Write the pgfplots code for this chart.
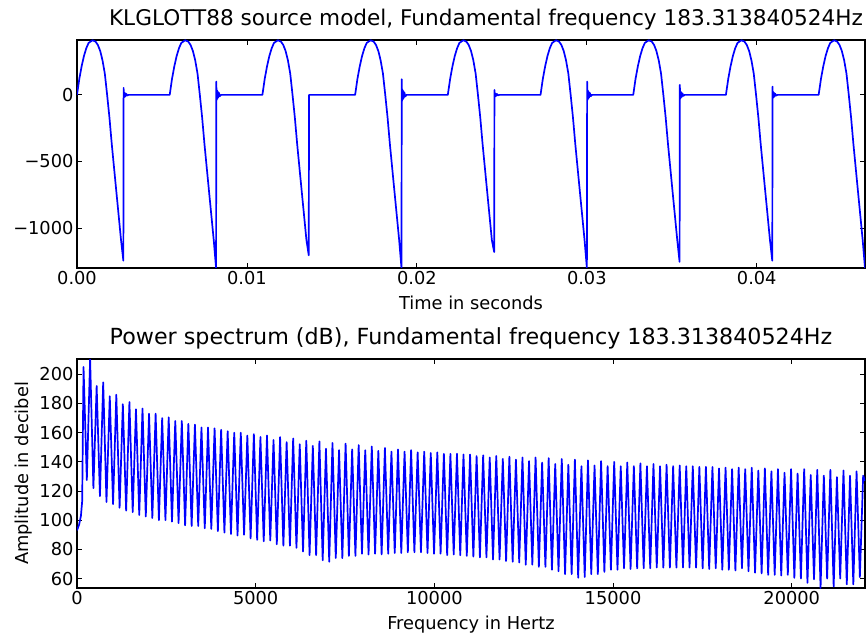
\documentclass[border=0pt]{standalone}
\usepackage{fontspec}
\setmainfont{DejaVu Sans}
\usepackage{pgfplots}
\pgfplotsset{compat=1.18}
\usepackage{pgfplotstable}

% time in microseconds, glottal flow derivative
\pgfplotstableread{
t v
0 0
136 120
273 215
409 292
546 350
682 390
909 410
1091 400
1227 375
1364 330
1500 260
1637 160
1773 0
1909 -170
2046 -370
2182 -550
2318 -730
2455 -910
2591 -1090
2728 -1245
2743 52
2758 -21
2778 18
2803 -16
2828 13
2858 -10
2898 8
2948 -5
3028 0
5455 0
5591 120
5728 215
5864 292
6001 350
6137 390
6364 410
6546 400
6682 375
6819 330
6955 260
7092 160
7228 0
7364 -170
7501 -370
7637 -550
7773 -730
7910 -910
8046 -1090
8183 -1300
8198 100
8213 -40
8233 35
8258 -30
8283 25
8313 -20
8353 15
8403 -10
8483 0
10910 0
11046 120
11183 215
11319 292
11456 350
11592 390
11819 410
12001 400
12137 375
12274 330
12410 260
12547 160
12683 0
12819 -170
12956 -370
13092 -550
13228 -730
13365 -910
13501 -1090
13638 -1205
13653 0
16366 0
16502 120
16639 215
16775 292
16912 350
17048 390
17275 410
17457 400
17593 375
17730 330
17866 260
18003 160
18139 0
18275 -170
18412 -370
18548 -550
18684 -730
18821 -910
18957 -1090
19094 -1300
19109 118
19124 -47
19144 41
19169 -35
19194 30
19224 -24
19264 18
19314 -12
19394 0
21821 0
21957 120
22094 215
22230 292
22367 350
22503 390
22730 410
22912 400
23048 375
23185 330
23321 260
23458 160
23594 0
23730 -170
23867 -370
24003 -550
24139 -730
24276 -910
24412 -1090
24549 -1180
24564 37
24579 -15
24599 13
24624 -11
24649 9
24679 -7
24719 6
24769 -4
24849 0
27276 0
27412 120
27549 215
27685 292
27822 350
27958 390
28185 410
28367 400
28503 375
28640 330
28776 260
28913 160
29049 0
29185 -170
29322 -370
29458 -550
29594 -730
29731 -910
29867 -1090
30004 -1300
30019 100
30034 -40
30054 35
30079 -30
30104 25
30134 -20
30174 15
30224 -10
30304 0
32731 0
32867 120
33004 215
33140 292
33277 350
33413 390
33640 410
33822 400
33958 375
34095 330
34231 260
34368 160
34504 0
34640 -170
34777 -370
34913 -550
35049 -730
35186 -910
35322 -1090
35459 -1254
35474 75
35489 -30
35509 26
35534 -22
35559 19
35589 -15
35629 11
35679 -8
35759 0
38186 0
38322 120
38459 215
38595 292
38732 350
38868 390
39095 410
39277 400
39413 375
39550 330
39686 260
39823 160
39959 0
40095 -170
40232 -370
40368 -550
40504 -730
40641 -910
40777 -1090
40914 -1245
40929 62
40944 -25
40964 22
40989 -19
41014 16
41044 -12
41084 9
41134 -6
41214 0
43642 0
43778 120
43915 215
44051 292
44188 350
44324 390
44551 410
44733 400
44869 375
45006 330
45142 260
45279 160
45415 0
45551 -170
45688 -370
45824 -550
45960 -730
46097 -910
46233 -1090
46370 -1300
}\wave

\pgfplotstableread{
f db
0 93
60 97
110 103
145 113
183 205
275 127.5
367 210.5
459 122
550 192
642 116.5
733 194.5
825 112.5
917 185
1009 111
1100 186
1192 108.5
1283 179.5
1375 106.5
1467 181
1559 105.5
1650 176
1742 103.5
1833 176.5
1925 102.5
2016 173
2108 101.5
2200 173
2292 100
2383 170
2475 100
2566 170.5
2658 99
2750 168
2842 98
2933 168
3025 96.5
3116 166
3208 96
3300 165.5
3392 96
3483 163.5
3575 94.5
3666 163.5
3758 94
3850 163
3942 92.5
4033 162
4125 91.5
4216 161
4308 90.5
4400 160
4492 89.5
4583 160
4675 90
4766 158
4858 87.5
4949 159
5041 86.5
5133 157
5225 85.5
5316 158
5408 86
5499 155
5591 83.5
5683 157
5775 82.5
5866 153.5
5958 82.5
6049 156
6141 81
6233 152
6325 78.5
6416 154.5
6508 76
6599 151
6691 76
6783 154
6875 72.5
6966 149
7058 71.5
7149 153
7241 74
7333 148
7425 74
7516 152.5
7608 75.5
7699 148.5
7791 75.5
7882 151.5
7974 77
8066 148
8158 76.5
8249 150.5
8341 77
8432 147.5
8524 76.5
8616 149.5
8708 77
8799 147
8891 77.5
8982 148.5
9074 77.5
9166 147
9258 78
9349 148
9441 78
9532 146.5
9624 78
9716 147
9808 77.5
9899 146
9991 77
10082 146.5
10174 77
10266 145.5
10358 76
10449 145.5
10541 76.5
10632 145.5
10724 76
10815 145
10907 75.5
10999 145
11091 75
11182 144
11274 74.5
11365 144.5
11457 74.5
11549 143
11641 73
11732 144
11824 73
11915 142
12007 72
12099 143.5
12191 71.5
12282 141.5
12374 71
12465 143
12557 69.5
12649 140.5
12741 69.5
12832 143
12924 68
13015 139.5
13107 68
13198 142.5
13290 66
13382 138.5
13474 65
13565 142
13657 63
13749 138
13841 63
13932 141.5
14024 60.5
14115 137
14207 61
14298 141
14390 63
14482 137.5
14574 63
14665 140.5
14757 64.5
14848 137
14940 66
15032 140
15124 66
15215 137
15307 67
15398 139.5
15490 66.5
15582 137
15674 67
15765 139
15857 67
15948 137
16040 67
16131 138.5
16223 67.5
16315 137
16407 67.5
16498 138
16590 67.5
16681 137
16773 67.5
16865 137.5
16957 67.5
17048 137
17140 67.5
17231 137
17323 67.5
17415 136.5
17507 67
17598 136.5
17690 66.5
17781 136.5
17873 67
17965 135.5
18057 66
18148 136
18240 66
18331 135
18423 65.5
18515 136
18607 67
18698 135
18790 65
18881 136
18973 64
19065 134
19157 63.5
19248 135.5
19340 62.5
19431 133.5
19523 62.5
19614 135
19706 62
19798 132.5
19890 62.5
19981 135
20073 60.5
20164 132
20256 60
20348 135
20440 57
20531 131
20623 59.5
20714 134.5
20806 53.5
20898 130.5
20990 60
21081 134.5
21173 54.5
21264 129.5
21356 60
21448 134
21540 56
21631 130.5
21723 56
21814 133.5
21906 61
21998 130.5
22050 127
}\spec

\pgfplotsset{
  myax/.style={
    scale only axis, width=788pt,
    tick align=inside, major tick length=5pt,
    axis line style={line width=1.1pt},
    every tick/.style={black, line width=0.8pt},
    tick label style={font=\fontsize{17.8}{21}\selectfont},
    label style={font=\fontsize{17.8}{21}\selectfont},
    xlabel style={yshift=-4pt},
    title style={font=\fontsize{22.2}{26}\selectfont, at={(0.5,1)}, anchor=base, yshift=8pt},
    /pgf/number format/assume math mode=true,
    scaled ticks=false,
    /pgf/number format/set thousands separator={},
  }
}

\begin{document}
\begin{tikzpicture}
\begin{axis}[myax, at={(77pt,369pt)}, anchor=south west, height=228pt,
  xmin=0, xmax=46370, ymin=-1300, ymax=412,
  xtick={0,10000,20000,30000,40000}, xticklabels={0.00,0.01,0.02,0.03,0.04},
  ytick={-1000,-500,0}, yticklabels={−1000,−500,0},
  xlabel={Time in seconds},
  title style={xshift=15pt, font=\fontsize{21.6}{26}\selectfont},
  title={KLGLOTT88 source model, Fundamental frequency 183.313840524Hz}]
\addplot[blue, line width=1.7pt, line join=round] table[x=t,y=v] {\wave};
\end{axis}
\begin{axis}[myax, at={(77pt,49pt)}, anchor=south west, height=229pt,
  xmin=0, xmax=22050, ymin=53.5, ymax=210.5,
  xtick={0,5000,10000,15000,20000},
  ytick={60,80,100,120,140,160,180,200},
  xlabel={Frequency in Hertz}, ylabel={Amplitude in decibel},
  title={Power spectrum (dB), Fundamental frequency 183.313840524Hz}]
\addplot[blue, line width=1.7pt, line join=round] table[x=f,y=db] {\spec};
\end{axis}
\pgfresetboundingbox
\path[use as bounding box] (0,0) rectangle (866pt,637pt);
\end{tikzpicture}
\end{document}
